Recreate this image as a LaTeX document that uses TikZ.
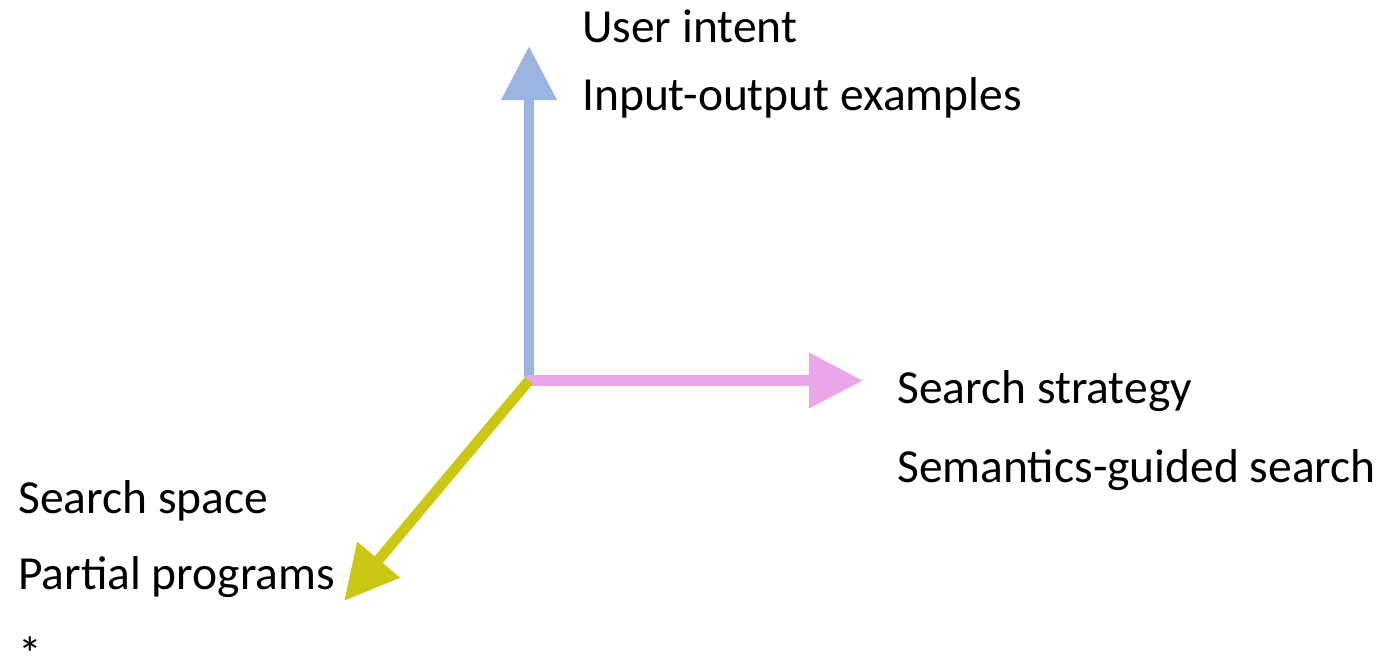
\documentclass[tikz,border=0pt]{standalone}
\usepackage{fontspec}
\setmainfont{Carlito}
\usetikzlibrary{arrows.meta}
\definecolor{intentblue}{RGB}{157,180,224}
\definecolor{strategypink}{RGB}{235,166,235}
\definecolor{spaceolive}{RGB}{202,200,20}
\tikzset{
  axis/.style={line width=10.5pt, -{Triangle[width=53pt,length=54pt]}},
  heading/.style={anchor=base west, inner sep=0pt, font=\fontsize{47.5}{56}\selectfont},
  detail/.style={anchor=base west, inner sep=0pt, font=\fontsize{47.5}{56}\selectfont},
}
\begin{document}
\begin{tikzpicture}[x=1pt,y=-1pt]
  \useasboundingbox (0,0) rectangle (1382,659);
  % axis end points
  \coordinate (o) at (529,380.5);
  \coordinate (obottom) at (529,377);
  \coordinate (oleft) at (526,380.5);
  \coordinate (up) at (529,46);
  \coordinate (right) at (863,380.5);
  \coordinate (down) at (344,601);
  % axes
  \draw[axis, draw=intentblue, fill=intentblue] (obottom) -- (up);
  \draw[axis, draw=strategypink, fill=strategypink] (oleft) -- (right);
  \draw[axis, draw=spaceolive, fill=spaceolive] (o) -- (down);
  % labels
  \node[heading] (intent) at (582,42) {User intent};
  \node[detail] (intentd) at (582,110) {Input-output examples};
  \node[heading] (strategy) at (897,403) {Search strategy};
  \node[detail] (strategyd) at (897,482) {Semantics-guided search};
  \node[heading] (space) at (18,513) {Search space};
  \node[detail] (spaced) at (18,589) {Partial programs};
  % footnote mark, lowered below its zero-height box
  \node[detail] (star) at (18,648) {\smash{\raisebox{-22pt}{*}}};
\end{tikzpicture}
\end{document}
